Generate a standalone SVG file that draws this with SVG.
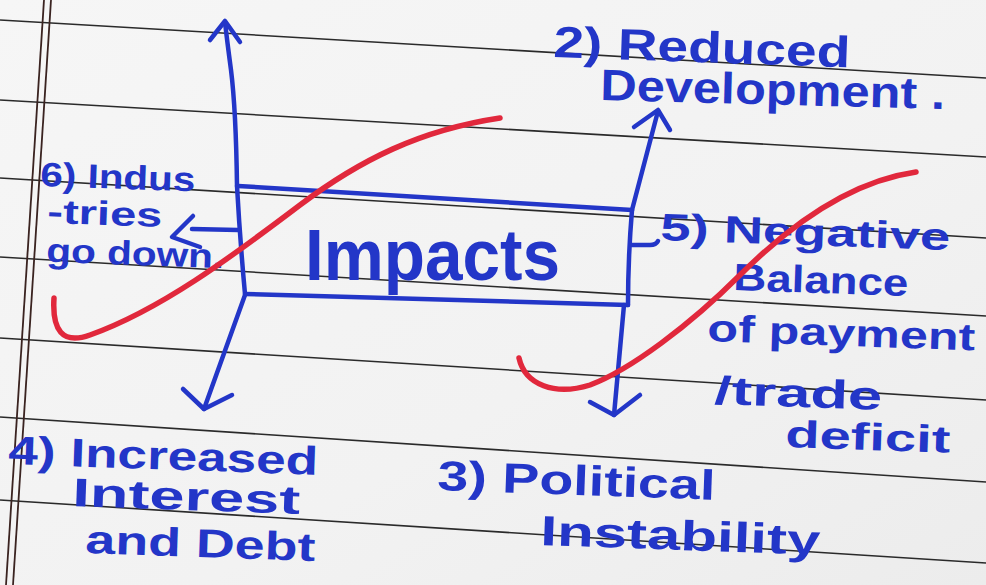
<svg xmlns="http://www.w3.org/2000/svg" width="986" height="585" viewBox="0 0 986 585">
<defs>
<linearGradient id="paper" x1="0" y1="0" x2="1" y2="1">
<stop offset="0" stop-color="#f6f6f6"/>
<stop offset="0.6" stop-color="#f2f2f2"/>
<stop offset="1" stop-color="#ececec"/>
</linearGradient>
<style>
.rule{stroke:#2a2a2a;stroke-width:1.6;fill:none}
.margin{stroke:#3a2320;stroke-width:1.8;fill:none}
.ink{stroke:#2336c8;stroke-width:4.5;fill:none;stroke-linecap:round;stroke-linejoin:round}
.red{stroke:#e1283c;stroke-width:5.5;fill:none;stroke-linecap:round}
.t{font-family:"Liberation Sans","Open Sans",sans-serif;fill:#2336c8;font-weight:bold}
</style>
</defs>
<rect width="986" height="585" fill="url(#paper)"/>
<g id="paper-lines">
<path class="rule" d="M0 20 L986 78"/>
<path class="rule" d="M0 100 L986 157"/>
<path class="rule" d="M0 178 L986 238"/>
<path class="rule" d="M0 257 L986 316"/>
<path class="rule" d="M0 338 L986 400"/>
<path class="rule" d="M0 417 L986 482"/>
<path class="rule" d="M0 500 L986 563"/>
<path class="margin" d="M44 0 L6 585"/>
<path class="margin" d="M51 0 L13 585"/>
</g>
<g id="impacts">
<path class="ink" d="M238 186 L632 210"/>
<path class="ink" d="M245 294 L628 305"/>
<path class="ink" d="M237 186 Q240 240 245 294"/>
<path class="ink" d="M632 210 Q628 258 628 305"/>
<text class="t" x="305" y="280" font-size="72" font-weight="normal" textLength="255" lengthAdjust="spacingAndGlyphs">Impacts</text>
</g>
<g id="connectors">
<path class="ink" d="M237 186 Q236 110 231 70 Q227 40 225 22"/>
<path class="ink" d="M210 40 L225 21 L240 42"/>
<path class="ink" d="M238 230 L192 229"/>
<path class="ink" d="M193 216 L172 237 L200 247"/>
<path class="ink" d="M632 210 L658 111"/>
<path class="ink" d="M634 127 L658 110 L670 130"/>
<path class="ink" d="M632 245 L650 245 Q656 245 658 241"/>
<path class="ink" d="M245 295 Q225 350 204 409"/>
<path class="ink" d="M183 389 L204 409 L232 395"/>
<path class="ink" d="M624 305 Q619 360 614 415"/>
<path class="ink" d="M590 402 L614 415 L640 395"/>
</g>
<g id="node-industries">
<text class="t" x="40" y="186" font-size="34" textLength="155" lengthAdjust="spacingAndGlyphs" transform="rotate(2 40 186)">6) Indus</text>
<text class="t" x="47" y="223" font-size="34" textLength="115" lengthAdjust="spacingAndGlyphs" transform="rotate(2 47 223)">-tries</text>
<text class="t" x="46" y="262" font-size="34" textLength="178" lengthAdjust="spacingAndGlyphs" transform="rotate(2 46 262)">go down.</text>
</g>
<g id="node-development">
<text class="t" x="553" y="57" font-size="44" textLength="297" lengthAdjust="spacingAndGlyphs" transform="rotate(2 553 57)">2) Reduced</text>
<text class="t" x="600" y="100" font-size="44" textLength="345" lengthAdjust="spacingAndGlyphs" transform="rotate(1.5 600 100)">Development .</text>
</g>
<g id="node-balance">
<text class="t" x="660" y="240" font-size="38" textLength="290" lengthAdjust="spacingAndGlyphs" transform="rotate(2 660 240)">5) Negative</text>
<text class="t" x="733" y="290" font-size="38" textLength="175" lengthAdjust="spacingAndGlyphs" transform="rotate(2 733 290)">Balance</text>
<text class="t" x="707" y="341" font-size="38" textLength="268" lengthAdjust="spacingAndGlyphs" transform="rotate(2 707 341)">of payment</text>
<text class="t" x="714" y="404" font-size="40" textLength="168" lengthAdjust="spacingAndGlyphs" transform="rotate(2 714 404)">/trade</text>
<text class="t" x="785" y="447" font-size="38" textLength="165" lengthAdjust="spacingAndGlyphs" transform="rotate(2 785 447)">deficit</text>
</g>
<g id="node-interest">
<text class="t" x="8" y="464" font-size="40" textLength="310" lengthAdjust="spacingAndGlyphs" transform="rotate(2 8 464)">4) Increased</text>
<text class="t" x="72" y="506" font-size="40" textLength="228" lengthAdjust="spacingAndGlyphs" transform="rotate(2 72 506)">Interest</text>
<text class="t" x="85" y="553" font-size="40" textLength="230" lengthAdjust="spacingAndGlyphs" transform="rotate(2 85 553)">and Debt</text>
</g>
<g id="node-political">
<text class="t" x="437" y="490" font-size="42" textLength="278" lengthAdjust="spacingAndGlyphs" transform="rotate(2 437 490)">3) Political</text>
<text class="t" x="540" y="545" font-size="42" textLength="280" lengthAdjust="spacingAndGlyphs" transform="rotate(2 540 545)">Instability</text>
</g>
<g id="strike-marks">
<path class="red" d="M500 118 C420 130 360 160 300 205 C230 258 160 310 90 335 C62 345 52 330 54 298"/>
<path class="red" d="M916 172 C860 180 800 215 740 275 C690 325 630 370 590 385 C555 396 525 385 519 358"/>
</g>
</svg>
